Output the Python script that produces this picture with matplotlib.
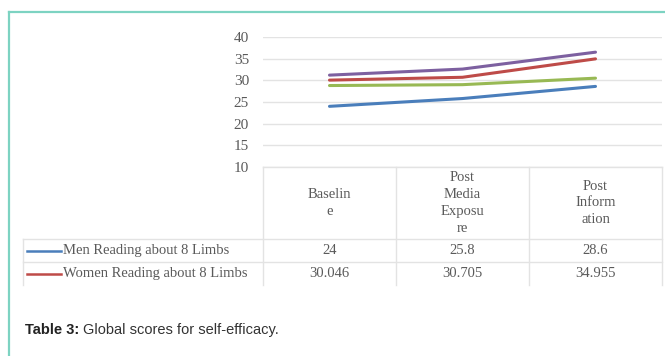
import matplotlib.pyplot as plt

# scores at each stage
stages = ["Baselin\ne", "Post\nMedia\nExposu\nre", "Post\nInform\nation"]
men = [24, 25.8, 28.6]
women = [30.046, 30.705, 34.955]
series3 = [31.2, 32.6, 36.5]
series4 = [28.8, 29.0, 30.5]
yticks = [10, 15, 20, 25, 30, 35, 40]

W, H = 665, 356
serif = "Liberation Serif"
grey_txt = "#5a5a5a"
grid_col = "#e3e3e3"
blue, red, green, purple = "#4a7ebb", "#be4b48", "#98b954", "#7d60a0"

fig = plt.figure(figsize=(W / 100, H / 100), dpi=100)

# overlay in pixel coordinates for the frame, table and caption
bg = fig.add_axes([0, 0, 1, 1])
bg.set_xlim(0, W)
bg.set_ylim(H, 0)
bg.axis("off")

# plot area
x0, x1, ytop, ybot = 263, 662, 37, 167
ax = fig.add_axes([x0 / W, 1 - ybot / H, (x1 - x0) / W, (ybot - ytop) / H])
ax.set_facecolor("none")
xs = range(len(stages))
ax.plot(xs, series4, color=green, lw=2.2, solid_capstyle="round")
ax.plot(xs, men, color=blue, lw=2.2, solid_capstyle="round")
ax.plot(xs, women, color=red, lw=2.2, solid_capstyle="round")
ax.plot(xs, series3, color=purple, lw=2.2, solid_capstyle="round")
ax.set_xlim(-0.5, len(stages) - 0.5)
ax.set_ylim(yticks[0], yticks[-1])
ax.set_yticks(yticks)
ax.set_xticks([])
ax.tick_params(axis="y", length=0, pad=10, labelsize=11, labelcolor=grey_txt)
for lab in ax.get_yticklabels():
    lab.set_family(serif)
ax.yaxis.grid(True, color=grid_col, lw=1)
ax.set_axisbelow(True)
for s in ax.spines.values():
    s.set_visible(False)

# frame
teal = "#7dd3c2"
bg.plot([8.5, 8.5], [11.5, H], color=teal, lw=1.6)
bg.plot([8.5, W], [11.5, 11.5], color=teal, lw=1.6)

# data table under the chart
col_w = (x1 - x0) / len(stages)
row1, row2, tab_bot, tab_left = 239, 262, 285, 23
bg.plot([x0, x1], [ybot, ybot], color=grid_col, lw=1)
for k in range(len(stages) + 1):
    bg.plot([x0 + k * col_w] * 2, [ybot, tab_bot], color=grid_col, lw=1)
bg.plot([tab_left, x1], [row1, row1], color=grid_col, lw=1)
bg.plot([tab_left, x1], [row2, row2], color=grid_col, lw=1)
bg.plot([tab_left, tab_left], [row1, tab_bot], color=grid_col, lw=1)

for k, lab in enumerate(stages):
    cx = x0 + (k + 0.5) * col_w
    bg.text(cx, (ybot + row1) / 2, lab, ha="center", va="center",
            family=serif, fontsize=10.5, color=grey_txt, linespacing=1.37)

rows = [("Men Reading about 8 Limbs", men, blue),
        ("Women Reading about 8 Limbs", women, red)]
for i, (name, vals, col) in enumerate(rows):
    cy = (row1 + row2) / 2 + i * (row2 - row1)
    bg.plot([27, 61], [cy, cy], color=col, lw=1.8)
    bg.text(63, cy, name, ha="left", va="center", family=serif,
            fontsize=10.5, color=grey_txt)
    for k, v in enumerate(vals):
        bg.text(x0 + (k + 0.5) * col_w, cy, f"{v:g}", ha="center", va="center",
                family=serif, fontsize=10.5, color=grey_txt)

# caption
t = bg.text(25, 334, "Table 3:", ha="left", va="baseline", family="Liberation Sans",
            fontsize=10.5, fontweight="bold", color="#222222")
fig.canvas.draw()
bb = t.get_window_extent().transformed(bg.transData.inverted())
bg.text(bb.x1 + 4, 334, "Global scores for self-efficacy.", ha="left", va="baseline",
        family="Liberation Sans", fontsize=10.5, color="#333333")

fig.savefig("out.png", dpi=100)
